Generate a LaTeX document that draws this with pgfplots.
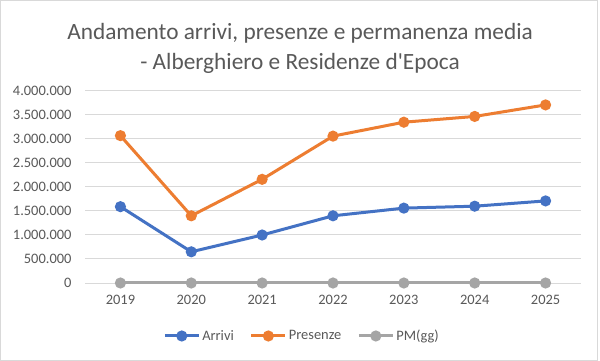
\documentclass[border=0pt]{standalone}
\usepackage{fontspec}
\setmainfont{Carlito}[Ligatures=TeXOff]
\usepackage{pgfplots}
\pgfplotsset{compat=1.18}
\definecolor{cblue}{HTML}{4472C4}
\definecolor{corange}{HTML}{ED7D31}
\definecolor{cgray}{HTML}{A5A5A5}
\definecolor{textgray}{HTML}{595959}
\definecolor{gridgray}{HTML}{D9D9D9}
\begin{document}
\begin{tikzpicture}
\useasboundingbox (0bp,0bp) rectangle (600bp,361bp);
\path[fill=white] (0bp,0bp) rectangle (600bp,361bp);
\draw[color=gridgray, line width=1.2bp] (0.6bp,0.8bp) rectangle (597.5bp,360.4bp);
\node[align=center, text=textgray, font=\fontsize{23.4}{30}\selectfont] at (300bp,313bp) {Andamento arrivi, presenze e permanenza media\\- Alberghiero e Residenze d'Epoca};
\begin{axis}[at={(85bp,78bp)}, anchor=south west, scale only axis,
  width=496bp, height=192bp,
  xmin=-0.5, xmax=6.5, ymin=0, ymax=4000000,
  xtick={0,1,2,3,4,5,6},
  xticklabels={2019,2020,2021,2022,2023,2024,2025},
  ytick={0,500000,1000000,1500000,2000000,2500000,3000000,3500000,4000000},
  yticklabels={0,500.000,1.000.000,1.500.000,2.000.000,2.500.000,3.000.000,3.500.000,4.000.000},
  ymajorgrids, grid style={color=gridgray, line width=1bp},
  axis line style={draw=none},
  major tick length=0pt,
  tick label style={font=\fontsize{14.5}{16}\selectfont, text=textgray},
  yticklabel style={xshift=-10bp},
  xticklabel style={yshift=-9bp},
  scaled y ticks=false,
  legend style={at={(0.4375,-0.276)}, anchor=center, draw=none, fill=none,
    legend columns=3, font=\fontsize{14.5}{16}\selectfont, text=textgray,
    /tikz/every even column/.append style={column sep=14bp}},
  legend cell align=left,
  legend image code/.code={\draw[mark repeat=2,mark phase=2] plot coordinates {(0bp,0bp)(17bp,0bp)(34bp,0bp)};},
  every axis plot/.append style={line width=3bp, mark=*, mark size=4bp, mark options={solid}},
  clip=false,
]
\addplot[color=cblue, mark options={fill=cblue}] coordinates {(0,1590000) (1,650000) (2,1000000) (3,1400000) (4,1560000) (5,1600000) (6,1710000)};
\addlegendentry{Arrivi}
\addplot[color=corange, mark options={fill=corange}] coordinates {(0,3070000) (1,1400000) (2,2160000) (3,3060000) (4,3350000) (5,3470000) (6,3710000)};
\addlegendentry{Presenze}
\addplot[color=cgray, mark options={fill=cgray}] coordinates {(0,3) (1,3) (2,3) (3,3) (4,3) (5,3) (6,3)};
\addlegendentry{PM(gg)}
\end{axis}
\end{tikzpicture}
\end{document}
